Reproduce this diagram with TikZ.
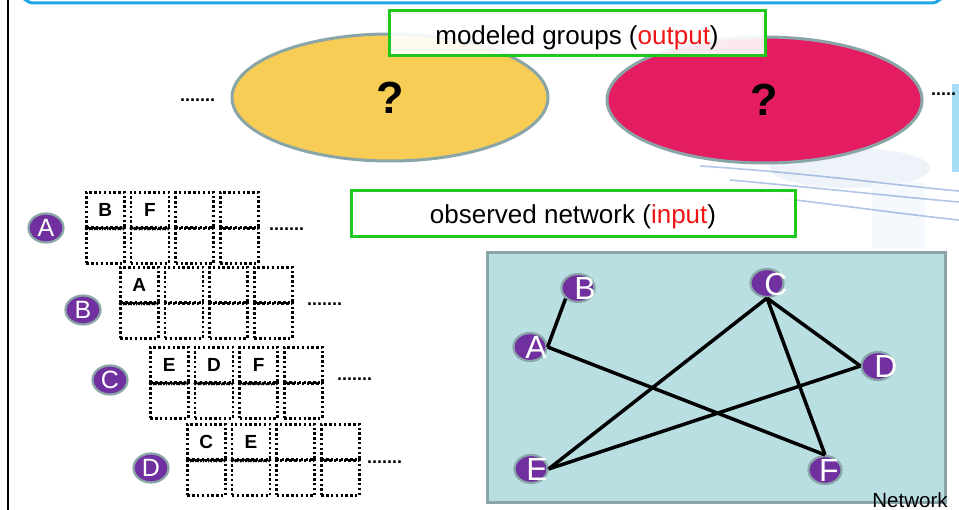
\documentclass[tikz,border=0pt]{standalone}
\usepackage{fontspec}
\setmainfont{Liberation Sans}
\usetikzlibrary{shapes.geometric,decorations.pathmorphing}
\definecolor{boxgreen}{RGB}{30,200,30}
\definecolor{grpyellow}{RGB}{247,205,85}
\definecolor{grppink}{RGB}{228,28,98}
\definecolor{rimgray}{RGB}{138,165,168}
\definecolor{nodepurple}{RGB}{112,48,160}
\definecolor{panelteal}{RGB}{185,223,226}
\definecolor{frameblue}{RGB}{30,168,232}
\definecolor{ringblue}{RGB}{60,110,190}
\definecolor{outred}{RGB}{240,20,20}

% one member's slots: a row of dotted top cells and bottom cells
\newcommand\slotrow[5]{%
  \foreach \lbl [count=\k from 0] in {#4} {
    \node[cell] (#1-\k-t) at ({#2+\k*44.7},{#3}) {\lbl};
    \node[cell] (#1-\k-b) at ({#2+\k*44.7},{#3+36}) {};
  }
  \foreach \k in {#5} {
    \draw[zig] (#1-\k-t.south west) -- (#1-\k-t.south east);
  }
}

\begin{document}
\begin{tikzpicture}[x=1pt,y=-1pt,
  titlebox/.style={draw=boxgreen, line width=3, fill=white, fill opacity=0.9,
    text opacity=1, inner sep=0, text depth=0pt, font=\fontsize{26}{30}\selectfont},
  group/.style={ellipse, draw=rimgray, line width=3, inner sep=0,
    font=\bfseries\fontsize{45}{50}\selectfont},
  cell/.style={draw, line width=2.6, dash pattern=on 2.4pt off 2.4pt,
    minimum width=38, minimum height=35, inner sep=0, anchor=north west,
    font=\bfseries\fontsize{19}{20}\selectfont},
  zig/.style={decorate, decoration={zigzag, amplitude=1.2pt, segment length=2.6pt},
    line width=0.8},
  member/.style={ellipse, fill=nodepurple, draw=rimgray, line width=2.2,
    inner sep=0, text=white, font=\fontsize{25}{25}\selectfont},
  netnode/.style={ellipse, fill=nodepurple, draw=rimgray, line width=2.2,
    inner sep=0, minimum width=33, minimum height=28},
  netlbl/.style={text=white, inner sep=0, font=\fontsize{32}{32}\selectfont},
  edge/.style={line width=3.5, black},
  dots/.style={inner sep=0, anchor=base west, font=\bfseries\fontsize{18}{20}\selectfont}
]
\useasboundingbox (0,0) rectangle (959,510);
\fill[white] (0,0) rectangle (959,510);

% faint globe decoration at the upper right
\fill[ringblue!12, opacity=0.7] (850,168) ellipse [x radius=80, y radius=20];
\fill[ringblue!5] (872,182) rectangle (925,248);
\fill[frameblue!40] (952,84) rectangle (959,172);
\draw[ringblue, opacity=0.4, line width=1.6] (700,166) .. controls (820,174) and (900,186) .. (959,191);
\draw[ringblue, opacity=0.4, line width=1.6] (730,180) .. controls (840,190) and (910,198) .. (959,202);
\draw[ringblue, opacity=0.4, line width=1.6] (780,198) .. controls (860,208) and (920,216) .. (959,220);

% frame of the slide
\draw[frameblue, line width=3, rounded corners=14] (20,-40) rectangle (945,3);
\draw[line width=2.5] (8,0) -- (8,510);

% modeled groups
\node[group, fill=grpyellow, minimum width=316, minimum height=127] (g1) at (390,97.5) {?};
\node[group, fill=grppink, minimum width=315, minimum height=126] (g2) at (764.5,100) {?};
\node[dots] (dl) at (180,102) {.......};
\node[dots] (dr) at (931,96) {.....};

\node[titlebox, text height=23pt, minimum width=376, minimum height=45] (tout) at (577,33.5)
  {modeled groups (\textcolor{outred}{output})};
\node[titlebox, text height=20pt, minimum width=444, minimum height=46] (tin) at (573,214)
  {observed network (\textcolor{outred}{input})};

% members and their slots
\node[member, minimum width=35, minimum height=29] (mA) at (46,228) {A};
\slotrow{sA}{85}{191}{B,F,{},{}}{0,1}
\node[dots] (dA) at (269,231) {.......};

\node[member, minimum width=35, minimum height=29] (mB) at (83,310) {B};
\slotrow{sB}{119}{266}{A,{},{},{}}{0}
\node[dots] (dB) at (307,306) {.......};

\node[member, minimum width=35, minimum height=29] (mC) at (110,380) {C};
\slotrow{sC}{149}{346}{E,D,F,{}}{0,1,2}
\node[dots] (dC) at (337,381) {.......};

\node[member, minimum width=35, minimum height=29] (mD) at (151,468) {D};
\slotrow{sD}{186}{423}{C,E,{},{}}{0,1}
\node[dots] (dD) at (367,464) {.......};

% observed network
\node[draw=rimgray, fill=panelteal, line width=3, minimum width=458,
  minimum height=250, anchor=north west, inner sep=0] (panel) at (486,251) {};

\node[netnode] (nA) at (530,347) {};
\node[netnode] (nB) at (578,288) {};
\node[netnode] (nC) at (767,283) {};
\node[netnode] (nD) at (878,366) {};
\node[netnode] (nE) at (531,469) {};
\node[netnode] (nF) at (825,470) {};

\draw[edge] (nA.east) -- (nB.south west);
\draw[edge] (nA.east) -- (nF.north);
\draw[edge] (nC.south) -- (nE.east);
\draw[edge] (nC.south) -- (nD.west);
\draw[edge] (nC.south) -- (nF.north);
\draw[edge] (nE.east) -- (nD.west);

\node[netlbl] (lA) at (536,347) {A};
\node[netlbl] (lB) at (585,288) {B};
\node[netlbl] (lC) at (776,284) {C};
\node[netlbl] (lD) at (886,366) {D};
\node[netlbl] (lE) at (537,469) {E};
\node[netlbl] (lF) at (829,470) {F};

\node[inner sep=0, font=\fontsize{20.5}{22}\selectfont] (net) at (910,500) {Network};
\end{tikzpicture}
\end{document}
